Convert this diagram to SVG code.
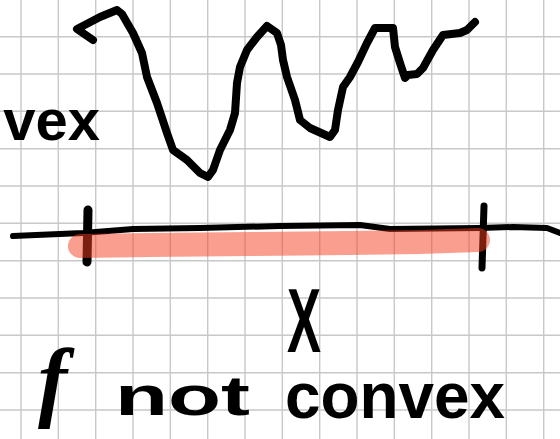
<svg xmlns="http://www.w3.org/2000/svg" width="560" height="439" viewBox="0 0 560 439">
<style>
.grid{stroke:#c8c8c8;stroke-width:1.4;fill:none}
.ink{stroke:#000;fill:none;stroke-linecap:round;stroke-linejoin:round}
.hand{font-family:"Liberation Sans",Arial,sans-serif;font-weight:bold;fill:#000}
</style>
<rect width="560" height="439" fill="#fff"/>
<g id="grid">
<path class="grid" d="M21,0V439M58.3,0V439M95.7,0V439M133,0V439M170.3,0V439M207.7,0V439M245,0V439M282.3,0V439M319.7,0V439M357,0V439M394.3,0V439M431.7,0V439M469,0V439M506.3,0V439M543.7,0V439M0,36.7H560M0,74H560M0,111.3H560M0,148.7H560M0,186H560M0,223.3H560M0,260.7H560M0,298H560M0,335.3H560M0,372.7H560M0,410H560"/>
</g>
<g id="curve">
<path class="ink" stroke-width="8" d="M93,40 L77,29 L100,17 L117,10 L122,14 L133,33 L142,53 L147,77 L157,103 L167,133 L173,150 L187,160 L200,173 L208,177 L213,170 L220,150 L230,130 L235,113 L237,83 L240,67 L247,50 L257,37 L267,26 L277,33 L281,45 L283,60 L287,77 L295,100 L300,120 L310,128 L330,137 L335,130 L338,110 L343,87 L350,77 L358,62 L367,43 L375,28 L393,28 L395,47 L400,63 L405,78 L408,75 L417,74 L423,68 L433,50 L443,35 L460,33 L467,30 L475,22"/>
</g>
<g id="axis">
<path class="ink" stroke-width="6" d="M13,236 L83,233 L133,229 L200,228 L280,226 L360,225 L390,229 L480,228 L513,227 L547,228 L560,233"/>
<path class="ink" stroke-width="9" d="M88,210 L87,262"/>
<path class="ink" stroke-width="7" d="M484,206 L482,268"/>
</g>
<g id="domain">
<path d="M80,246 L150,245 L250,244 L350,243 L420,242 L478,240" fill="none" stroke="rgb(246,64,32)" stroke-opacity="0.5" stroke-width="24" stroke-linecap="round" stroke-linejoin="round"/>
</g>
<g id="labels">
<text class="hand" x="100" y="140" font-size="58" text-anchor="end">vex</text>
<text class="hand" x="287" y="352" font-size="90" textLength="34" lengthAdjust="spacingAndGlyphs">X</text>
<text x="38" y="410" font-size="88" font-family="Liberation Serif,serif" font-style="italic" font-weight="bold">f</text>
<text class="hand" x="115" y="415" font-size="56" textLength="135" lengthAdjust="spacingAndGlyphs">not</text>
<text class="hand" x="285" y="418" font-size="65" textLength="220" lengthAdjust="spacingAndGlyphs">convex</text>
</g>
</svg>
